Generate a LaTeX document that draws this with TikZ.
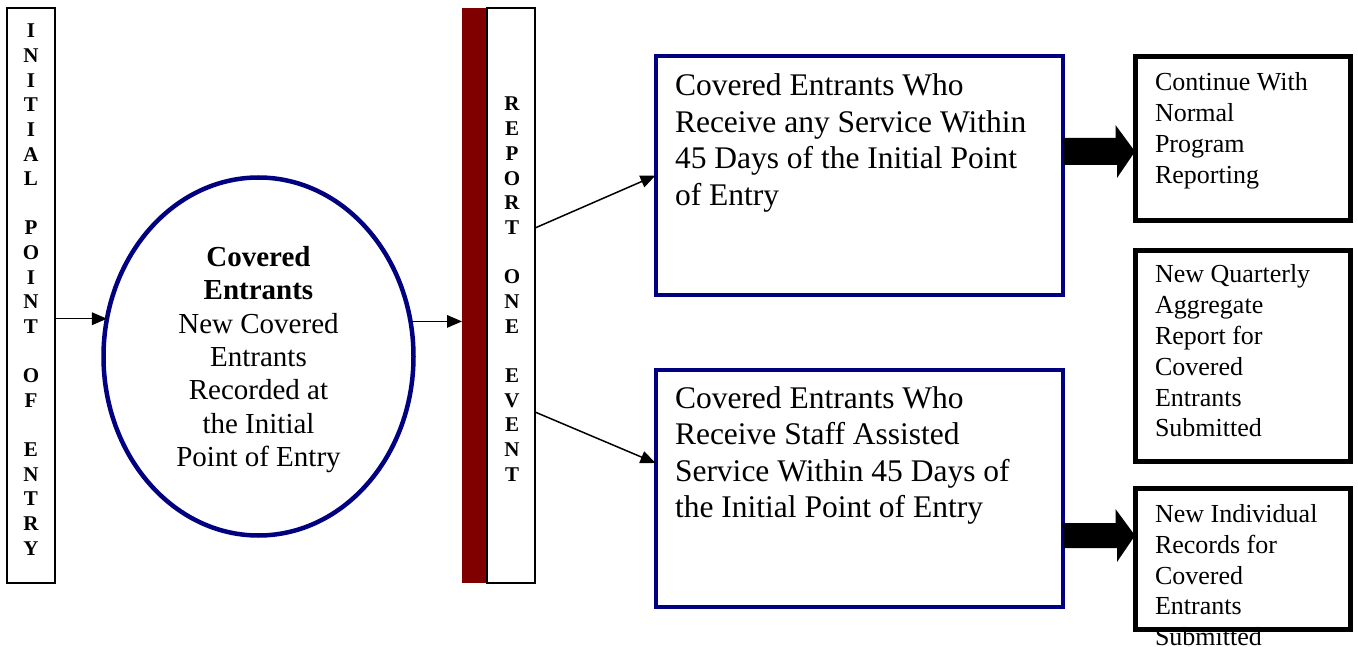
\documentclass[tikz,border=0pt]{standalone}
\usepackage{fontspec}
\setmainfont{Liberation Serif}
\usetikzlibrary{arrows.meta,calc,shapes.geometric}
\definecolor{navyb}{RGB}{0,0,128}
\definecolor{barred}{RGB}{128,0,0}
\begin{document}
\begin{tikzpicture}[x=1pt,y=-1pt,
  thinbox/.style={draw=black, line width=1.8pt, inner sep=0pt, outer sep=0pt},
  bluebox/.style={draw=navyb, line width=4pt, inner sep=0pt, outer sep=0pt},
  blkbox/.style={draw=black, line width=5pt, inner sep=0pt, outer sep=0pt},
  arr/.style={line width=1.5pt, -{Triangle[length=15pt,width=12.5pt]}},
  fat/.style={fill=black, draw=none},
  txt/.style={inner sep=0pt, outer sep=0pt},
  vlet/.style={txt, anchor=base},
]
\useasboundingbox (0,0) rectangle (1358,647);

% left vertical box
\node[thinbox, minimum width=48pt, minimum height=575pt] (leftbox) at (31,295.5) {};
\node[vlet] (lefttxt) at (31,38) {\fontsize{21}{24.62}\selectfont\bfseries
  \begin{tabular}[t]{@{}c@{}}I\\N\\I\\T\\I\\A\\L\\ \\P\\O\\I\\N\\T\\ \\O\\F\\ \\E\\N\\T\\R\\Y\end{tabular}};

% ellipse
\node[ellipse, bluebox, line width=4.5pt, minimum width=310pt, minimum height=358pt] (ell) at (258.5,356.5) {};
\node[txt, anchor=base] (elltxt) at (258.5,266) {\fontsize{29}{33.5}\selectfont
  \begin{tabular}[t]{@{}c@{}}\textbf{Covered}\\\textbf{Entrants}\\New Covered\\Entrants\\Recorded at\\the Initial\\Point of Entry\end{tabular}};

% report bar
\node[fill=barred, draw=none, inner sep=0pt, outer sep=0pt, minimum width=25pt, minimum height=575pt] (redbar) at (474.5,295.5) {};
\node[thinbox, minimum width=48pt, minimum height=575pt] (repbox) at (511,295.5) {};
\node[vlet] (reptxt) at (512,111) {\fontsize{21}{24.67}\selectfont\bfseries
  \begin{tabular}[t]{@{}c@{}}R\\E\\P\\O\\R\\T\\ \\O\\N\\E\\ \\E\\V\\E\\N\\T\end{tabular}};

% blue boxes
\node[bluebox, minimum width=407pt, minimum height=239pt] (blue1) at (859,175.5) {};
\node[txt, anchor=base west] (blue1txt) at (675,96) {\fontsize{31.5}{36.5}\selectfont
  \begin{tabular}[t]{@{}l@{}}Covered Entrants Who\\Receive any Service Within\\45 Days of the Initial Point\\of Entry\end{tabular}};

\node[bluebox, minimum width=407pt, minimum height=237pt] (blue2) at (859,488) {};
\node[txt, anchor=base west] (blue2txt) at (675,408) {\fontsize{31.5}{36.5}\selectfont
  \begin{tabular}[t]{@{}l@{}}Covered Entrants Who\\Receive Staff Assisted\\Service Within 45 Days of\\the Initial Point of Entry\end{tabular}};

% right boxes
\node[blkbox, minimum width=215pt, minimum height=164pt] (right1) at (1242.5,139) {};
\node[txt, anchor=base west] (right1txt) at (1155,91) {\fontsize{26}{30.8}\selectfont
  \begin{tabular}[t]{@{}l@{}}Continue With\\Normal\\Program\\Reporting\end{tabular}};

\node[blkbox, minimum width=215pt, minimum height=211pt] (right2) at (1242.5,356) {};
\node[txt, anchor=base west] (right2txt) at (1155,283) {\fontsize{26}{30.8}\selectfont
  \begin{tabular}[t]{@{}l@{}}New Quarterly\\Aggregate\\Report for\\Covered\\Entrants\\Submitted\end{tabular}};

\node[txt, anchor=base west] (right3txt) at (1155,522.5) {\fontsize{26}{30.8}\selectfont
  \begin{tabular}[t]{@{}l@{}}New Individual\\Records for\\Covered\\Entrants\\Submitted\end{tabular}};
\node[blkbox, minimum width=215pt, minimum height=141.5pt] (right3) at (1242.5,559) {};

% thin connectors
\draw[arr] (leftbox.east |- ell.166.5) -- (ell.166.5);
\draw[arr] (ell.13.5) -- (ell.13.5 -| redbar.west);
\coordinate (r1) at ($(repbox.east)+(0,-67.5)$);
\coordinate (r2) at ($(repbox.east)+(0,116.5)$);
\coordinate (b2in) at ($(blue2.west)+(0,-25)$);
\draw[arr] (r1) -- (blue1.west);
\draw[arr] (r2) -- (b2in);

% thick block arrows
\coordinate (a1) at ($(blue1.east)+(0,-24)$);
\coordinate (a2) at ($(blue2.east)+(0,47.5)$);
\fill[fat] (a1) ++(0,-13.5) -- ++(53,0) -- ++(0,-13) -- ($(a1 -| right1.west)$) -- ++(-18,26.5) -- ++(0,-13) -- ++(-53,0) -- cycle;
\fill[fat] (a2) ++(0,-12.5) -- ++(53,0) -- ++(0,-14) -- ($(a2 -| right3.west)$) -- ++(-18,26.5) -- ++(0,-14) -- ++(-53,0) -- cycle;
\end{tikzpicture}
\end{document}
